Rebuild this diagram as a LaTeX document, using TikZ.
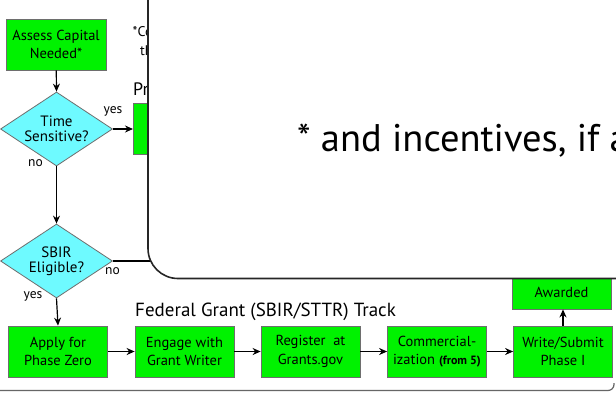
\documentclass[tikz,border=0pt]{standalone}
\usepackage{fontspec}
\setmainfont{PT Sans}
\usetikzlibrary{arrows.meta,shapes.geometric}
\definecolor{boxgreen}{RGB}{0,242,0}
\definecolor{qcyan}{RGB}{110,250,255}
\definecolor{edgegray}{RGB}{110,110,110}
\begin{document}
\begin{tikzpicture}[x=1pt,y=-1pt,
  stepbox/.style={draw=edgegray, fill=boxgreen, line width=0.8pt, inner sep=0pt,
    minimum width=99pt, minimum height=51pt, align=center,
    font=\fontsize{14.5}{18.5}\selectfont},
  decision/.style={diamond, draw=edgegray, fill=qcyan, line width=0.8pt, inner sep=0pt,
    minimum width=112pt, minimum height=74pt},
  dtext/.style={align=center, inner sep=0pt, font=\fontsize{15}{15.5}\selectfont},
  flow/.style={line width=1.2pt, -{Stealth[length=8pt,width=7pt]}},
  plain/.style={line width=1.2pt},
  lbl/.style={inner sep=0pt, font=\fontsize{13.5}{13.5}\selectfont},
  heading/.style={anchor=base west, inner sep=0pt}]
\useasboundingbox (0,0) rectangle (616,392);
\clip (0,0) rectangle (616,392);
\fill[white] (0,0) rectangle (616,392);

% side notes and track box of the upper track
\node[heading, font=\fontsize{14}{14}\selectfont] (starnote) at (132.5,36.5) {*Co};
\node[heading, font=\fontsize{14}{14}\selectfont] (starnote2) at (140,55) {th};
\node[heading, font=\fontsize{18}{18}\selectfont] (prtitle) at (133,95.7) {Pr};
\node[stepbox, minimum width=80pt, anchor=north west] (pbox) at (133,103) {};

% decision column
\node[stepbox, minimum width=100pt] (assess) at (56,44.5) {Assess Capital\\Needed*};
\node[decision] (time) at (56.5,129) {};
\node[dtext] (timetxt) at (time.center) {Time\\Sensitive?};
\node[decision] (sbir) at (56.5,261) {};
\node[dtext] (sbirtxt) at (sbir.center) {SBIR\\Eligible?};
\coordinate (sbirno) at (160,261);

\node[lbl] (yes1) at (113,111) {yes};
\node[lbl] (no1) at (35.5,163) {no};
\node[lbl] (no2) at (112.5,271) {no};
\node[lbl] (yes2) at (33,296) {yes};

% federal grant track
\node[heading, font=\fontsize{19}{19}\selectfont] (fedtitle) at (135,316.7) {Federal Grant (SBIR/STTR) Track};
\node[stepbox] (apply) at (58,351.5) {Apply for\\Phase Zero};
\node[stepbox] (engage) at (184.5,351.5) {Engage with\\Grant Writer};
\node[stepbox] (register) at (310.5,351.5) {Register\ \ at\\Grants.gov};
\node[stepbox] (commerce) at (437,351.5) {Commercial-\\ization {\fontsize{12}{12}\selectfont\bfseries(from 5)}};
\node[stepbox] (write) at (563,351.5) {Write/Submit\\Phase I};
\node[stepbox, minimum height=34pt] (awarded) at (561.5,292) {Awarded};

\draw[flow] (assess) -- (time.north);
\draw[flow] (time.east) -- (pbox.west |- time.east);
\draw[flow] (time.south) -- (sbir.north);
\draw[plain] (sbir.east) -- (sbirno);
\draw[flow] (sbir.south) -- (apply.north);
\draw[flow] (apply) -- (engage);
\draw[flow] (engage) -- (register);
\draw[flow] (register) -- (commerce);
\draw[flow] (commerce) -- (write);
\draw[flow] (write.north) -- (write.north |- awarded.south);

% outer frame at the bottom
\draw[black!60, line width=1.2pt, rounded corners=6pt] (0,390.5) -- (614,390.5) -- (614,383);

% overlay panel
\fill[white, rounded corners=30pt] (148,-10) -- (148,278.5) -- (640,278.5) -- (640,-10) -- cycle;
\draw[black!85, line width=1.6pt, rounded corners=30pt] (148,-10) -- (148,278.5) -- (640,278.5);
\node[heading, font=\fontsize{38.5}{38.5}\selectfont] (bignote) at (297,151) {* and incentives, if a};
\end{tikzpicture}
\end{document}
